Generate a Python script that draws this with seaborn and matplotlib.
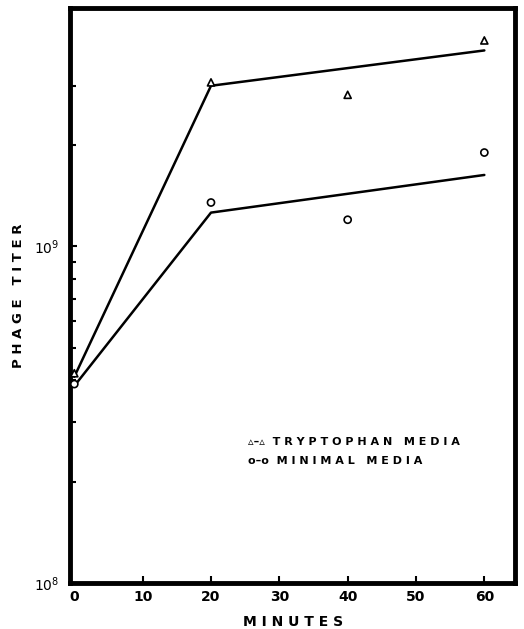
import matplotlib
matplotlib.use('Agg')
import matplotlib.pyplot as plt
import matplotlib.ticker as mticker
import seaborn as sns
import pandas as pd

sns.set_style('white')
plt.rcParams['font.family'] = ['DejaVu Sans']
plt.rcParams['text.color'] = 'black'
plt.rcParams['axes.labelcolor'] = 'black'

# observed points
minutes = [0, 20, 40, 60]
tryptophan_pts = [4.2e8, 3.07e9, 2.82e9, 4.09e9]
minimal_pts = [3.9e8, 1.35e9, 1.2e9, 1.9e9]

# fitted lines
line_minutes = [0, 20, 60]
tryptophan_line = [4.1e8, 3.0e9, 3.82e9]
minimal_line = [3.85e8, 1.26e9, 1.63e9]

x_ticks = [0, 10, 20, 30, 40, 50, 60]

pts = pd.DataFrame({'minutes': minutes * 2,
                    'titer': tryptophan_pts + minimal_pts,
                    'media': ['tryptophan'] * 4 + ['minimal'] * 4})
lines = pd.DataFrame({'minutes': line_minutes * 2,
                      'titer': tryptophan_line + minimal_line,
                      'media': ['tryptophan'] * 3 + ['minimal'] * 3})

fig = plt.figure(figsize=(5.24, 6.29), dpi=100)
ax = fig.add_axes([0.134, 0.073, 0.849, 0.914])

sns.lineplot(data=lines, x='minutes', y='titer', units='media', estimator=None,
             color='black', linewidth=1.8, ax=ax, legend=False)
sns.scatterplot(data=pts, x='minutes', y='titer', style='media',
                markers={'tryptophan': '^', 'minimal': 'o'},
                edgecolor='black', linewidth=1.2,
                s=26, color='white', ax=ax, legend=False, zorder=3)
for c in ax.collections:
    c.set_facecolor('white')
    c.set_edgecolor('black')

ax.set_yscale('log')
ax.set_ylim(1e8, 5.1e9)
ax.set_xlim(-0.6, 64.5)

ax.yaxis.set_major_locator(mticker.FixedLocator([1e8, 1e9]))
ax.yaxis.set_major_formatter(mticker.FixedFormatter([r'$10^8$', r'$10^9$']))
ax.yaxis.set_minor_locator(mticker.FixedLocator([2e8, 3e8, 4e8, 5e8, 6e8, 7e8, 8e8, 9e8, 2e9, 3e9]))
ax.yaxis.set_minor_formatter(mticker.NullFormatter())
ax.xaxis.set_minor_locator(mticker.NullLocator())
ax.set_xticks(x_ticks)
ax.set_xticklabels([str(t) for t in x_ticks], fontweight='bold')

ax.tick_params(axis='both', which='both', direction='in', color='black',
               width=1.5, labelsize=10, labelcolor='black', left=True, bottom=True)
ax.tick_params(axis='both', which='major', length=5)
ax.tick_params(axis='y', which='minor', length=4)
ax.tick_params(axis='x', pad=5)
ax.tick_params(axis='y', pad=8)
# no tick mark at the corner for x = 0
ax.xaxis.get_major_ticks()[0].tick1line.set_visible(False)

for s in ax.spines.values():
    s.set_linewidth(3.5)
    s.set_color('black')

ax.set_xlabel('M I N U T E S', fontweight='bold', fontsize=10, labelpad=8)
ax.set_ylabel('P H A G E   T I T E R', fontweight='bold', fontsize=9.5, labelpad=6)

ax.text(0.40, 0.245, '\u25b5\u2013\u25b5  T R Y P T O P H A N   M E D I A',
        transform=ax.transAxes, fontsize=8, fontweight='bold', va='center')
ax.text(0.40, 0.212, 'o\u2013o  M I N I M A L   M E D I A',
        transform=ax.transAxes, fontsize=8, fontweight='bold', va='center')

fig.savefig('out.png', dpi=100)
